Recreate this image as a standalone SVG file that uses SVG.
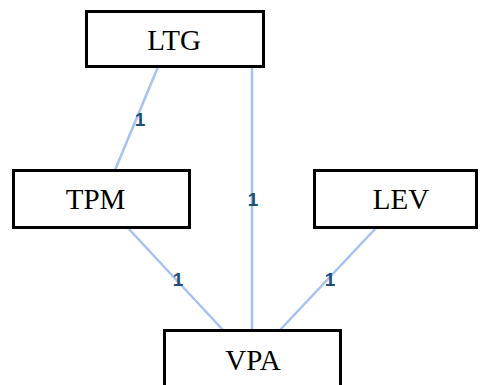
<svg xmlns="http://www.w3.org/2000/svg" width="482" height="385" viewBox="0 0 482 385">
<style>
.box{fill:#fff;stroke:#000;stroke-width:3}
.t{font-family:"Liberation Serif",serif;font-size:29px;fill:#000;text-anchor:middle}
.c{stroke:#a4c2f4;stroke-width:2.5;fill:none}
.l{font-family:"Liberation Sans",sans-serif;font-size:19px;font-weight:bold;fill:#1f4e79;text-anchor:middle}
</style>
<rect width="482" height="385" fill="#fff"/>
<g id="connectors">
<line class="c" x1="158" y1="67" x2="115" y2="170"/>
<line class="c" x1="252" y1="67" x2="252" y2="330"/>
<line class="c" x1="128" y1="228" x2="223" y2="330"/>
<line class="c" x1="376" y1="228" x2="280" y2="330"/>
<text class="l" x="140" y="126">1</text>
<text class="l" x="253" y="206">1</text>
<text class="l" x="178" y="286">1</text>
<text class="l" x="330" y="286">1</text>
</g>
<g id="LTG"><rect class="box" x="86.5" y="11.5" width="177" height="55"/><text class="t" x="174" y="50">LTG</text></g>
<g id="TPM"><rect class="box" x="13.5" y="170.5" width="176" height="57"/><text class="t" x="95.5" y="209">TPM</text></g>
<g id="LEV"><rect class="box" x="314.5" y="170.5" width="162" height="57"/><text class="t" x="401" y="209">LEV</text></g>
<g id="VPA"><rect class="box" x="164.5" y="330.5" width="176" height="60"/><text class="t" x="253" y="370">VPA</text></g>
</svg>
